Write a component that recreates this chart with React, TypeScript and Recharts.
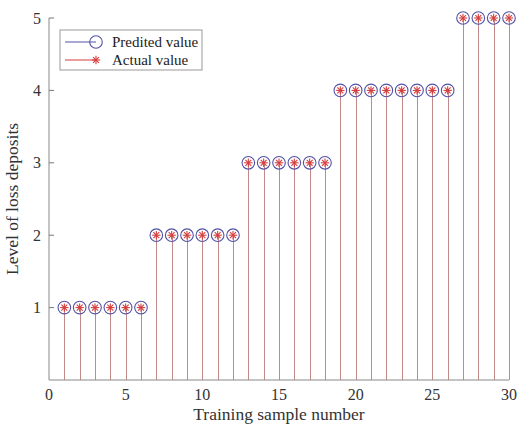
import React from 'react';
import { ComposedChart, Bar, Scatter, XAxis, YAxis, Label } from 'recharts';

const samples = Array.from({ length: 30 }, (_, i) => i + 1);
const predicted = [1,1,1,1,1,1,2,2,2,2,2,2,3,3,3,3,3,3,4,4,4,4,4,4,4,4,5,5,5,5];
const actual = [1,1,1,1,1,1,2,2,2,2,2,2,3,3,3,3,3,3,4,4,4,4,4,4,4,4,5,5,5,5];
const xTicks = [0, 5, 10, 15, 20, 25, 30];
const yTicks = [1, 2, 3, 4, 5];

const data = samples.map((s, i) => ({ x: s, pred: predicted[i], act: actual[i] }));

const FONT = '"Liberation Serif", "DejaVu Serif", serif';
const BLUE = '#5252a6';
const RED = '#d63c3c';
const STEM = '#c18a8a';

const Circle = (props: any) => {
  const { cx, cy } = props;
  if (cx == null || cy == null) return null;
  return <circle cx={cx} cy={cy} r={6.3} fill="none" stroke={BLUE} strokeWidth={1.1} />;
};

const Star = (props: any) => {
  const { cx, cy } = props;
  if (cx == null || cy == null) return null;
  const r = 4.2;
  const d = r * 0.707;
  return (
    <g stroke={RED} strokeWidth={1.1}>
      <line x1={cx - r} y1={cy} x2={cx + r} y2={cy} />
      <line x1={cx} y1={cy - r} x2={cx} y2={cy + r} />
      <line x1={cx - d} y1={cy - d} x2={cx + d} y2={cy + d} />
      <line x1={cx - d} y1={cy + d} x2={cx + d} y2={cy - d} />
    </g>
  );
};

const Stem = (props: any) => {
  const { x, y, width, height } = props;
  if (x == null || y == null) return null;
  const cx = Math.round(x + width / 2) + 0.5;
  return <line x1={cx} y1={y} x2={cx} y2={y + height} stroke={STEM} strokeWidth={1} />;
};

const YTick = (props: any) => {
  const { x, y, payload } = props;
  return (
    <g>
      <line x1={x + 8} y1={y} x2={x + 13} y2={y} stroke="#777" strokeWidth={1} />
      <text x={x} y={y} dy="0.35em" textAnchor="end" fontFamily={FONT} fontSize={16} fill="#333">
        {payload.value}
      </text>
    </g>
  );
};

const XTick = (props: any) => {
  const { x, y, payload } = props;
  return (
    <text x={x} y={y} dy="0.71em" textAnchor="middle" fontFamily={FONT} fontSize={16} fill="#333">
      {payload.value}
    </text>
  );
};

const LegendBox = () => (
  <g>
    <rect x={60} y={30} width={142} height={40} fill="#fff" stroke="#999" strokeWidth={1} />
    <line x1={65} y1={42} x2={96} y2={42} stroke={BLUE} strokeWidth={1} />
    <Circle cx={96} cy={42} />
    <text x={112} y={42} dy="0.35em" fontFamily={FONT} fontSize={15} fill="#222">Predited value</text>
    <line x1={65} y1={60} x2={96} y2={60} stroke={RED} strokeWidth={1} />
    <Star cx={96} cy={60} />
    <text x={112} y={60} dy="0.35em" fontFamily={FONT} fontSize={15} fill="#222">Actual value</text>
  </g>
);

export default function App() {
  return (
    <div style={{ position: 'absolute', left: 0, top: 0, width: 520, height: 429, background: '#fff' }}>
      <ComposedChart width={520} height={429} data={data} margin={{ top: 18, right: 11, left: 0, bottom: 0 }}>
        <XAxis
          dataKey="x"
          type="number"
          domain={[0, 30]}
          ticks={xTicks}
          height={49}
          tickSize={0}
          tickMargin={9}
          tick={<XTick />}
          stroke="#888"
          interval={0}
        >
          <Label value="Training sample number" position="insideBottom" offset={9} style={{ fontFamily: FONT, fontSize: 17.5, fill: '#333' }} />
        </XAxis>
        <YAxis
          type="number"
          domain={[0, 5]}
          ticks={yTicks}
          width={49}
          tickSize={0}
          tickMargin={8}
          tick={<YTick />}
          stroke="#888"
          interval={0}
        >
          <Label value="Level of loss deposits" angle={-90} position="insideLeft" offset={12} style={{ fontFamily: FONT, fontSize: 17.5, fill: '#333', textAnchor: 'middle' }} />
        </YAxis>
        <Bar dataKey="act" barSize={1} fill={STEM} shape={<Stem />} isAnimationActive={false} />
        <Scatter dataKey="pred" shape={<Circle />} isAnimationActive={false} />
        <Scatter dataKey="act" shape={<Star />} isAnimationActive={false} />
        <LegendBox />
      </ComposedChart>
    </div>
  );
}
